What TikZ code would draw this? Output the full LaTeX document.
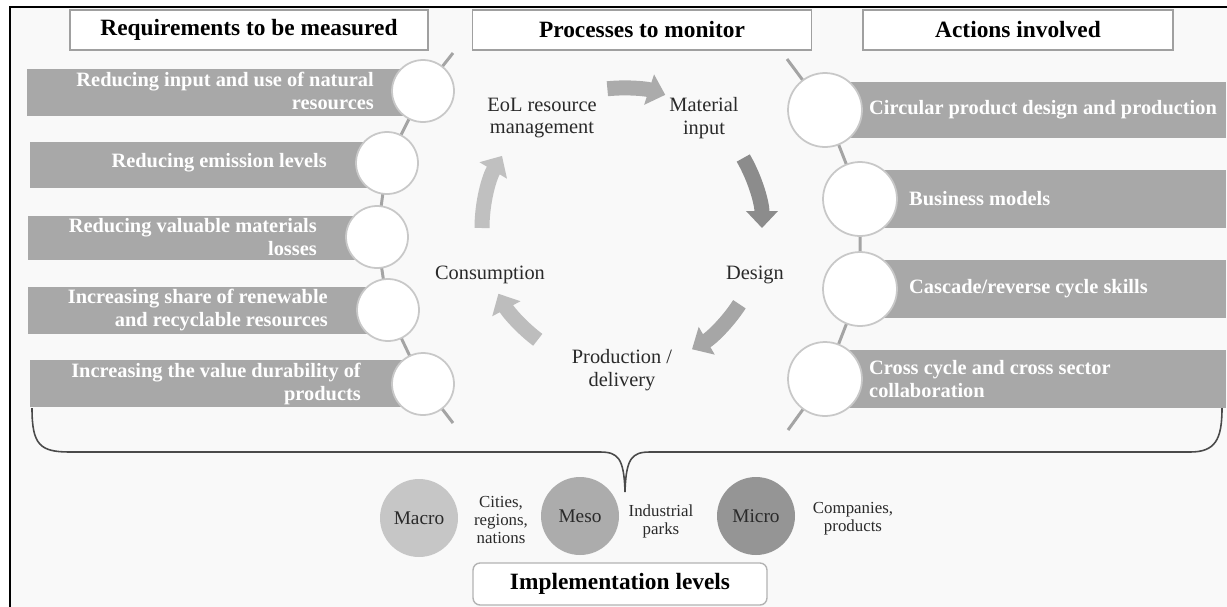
\documentclass[tikz,border=0pt]{standalone}
\usepackage{fontspec}
\setmainfont{Liberation Serif}
\usetikzlibrary{arrows.meta,positioning,calc}

\definecolor{paper}{HTML}{F9F9F9}
\definecolor{boxline}{HTML}{A0A0A0}
\definecolor{barfill}{HTML}{A8A8A8}
\definecolor{beadline}{HTML}{C8C8C8}
\definecolor{stickgray}{HTML}{A4A4A4}
\definecolor{ink}{HTML}{2A2A2A}
\definecolor{flowa}{HTML}{ABABAB}
\definecolor{flowb}{HTML}{8C8C8C}
\definecolor{flowc}{HTML}{A6A6A6}
\definecolor{flowd}{HTML}{BDBDBD}
\definecolor{flowe}{HTML}{C0C0C0}
\definecolor{macrofill}{HTML}{C6C6C6}
\definecolor{mesofill}{HTML}{ACACAC}
\definecolor{microfill}{HTML}{959595}

\newcommand\headfont{\bfseries\fontsize{13.3}{16}\selectfont}
\newcommand\barfont{\bfseries\fontsize{11.6}{12.8}\selectfont}
\newcommand\procfont{\fontsize{11.6}{12.8}\selectfont}
\newcommand\levelfont{\fontsize{11}{13}\selectfont}
\newcommand\notefont{\fontsize{9.6}{10.2}\selectfont}

\begin{document}
\begin{tikzpicture}[x=0.02cm,y=-0.02cm,
    headbox/.style={draw=boxline,fill=white,line width=0.8pt,minimum height=0.8cm,font=\headfont},
    bead/.style={circle,draw=beadline,fill=white,line width=1pt,inner sep=0pt},
    stick/.style={draw=stickgray,line width=1.7pt},
    reqtext/.style={anchor=east,inner sep=0pt,align=right,text=white,font=\barfont},
    acttext/.style={anchor=west,inner sep=0pt,align=left,text=white,font=\barfont},
    proc/.style={align=center,text=ink,font=\procfont},
    flow/.style={line width=0.3cm,-{Triangle[length=0.34cm,width=0.62cm]}},
    level/.style={circle,minimum size=1.56cm,inner sep=0pt,text=ink,font=\levelfont},
    levelnote/.style={align=center,text=ink,font=\notefont},
  ]
  \useasboundingbox (0,0) rectangle (1227,606);
  \fill[white] (0,0) rectangle (1227,606);
  \draw[line width=1.2pt,fill=paper] (10,7) rectangle (1240,620);

  \node[headbox,minimum width=7.16cm] (reqhead) at (249,30) {Requirements to be measured};
  \node[headbox,minimum width=6.78cm] (prochead) at (642,30) {Processes to monitor};
  \node[headbox,minimum width=6.2cm] (acthead) at (1018,30) {Actions involved};

  \fill[barfill] (27,69) rectangle (423,116);
  \fill[barfill] (30,142) rectangle (387,188);
  \fill[barfill] (28,216) rectangle (377,260);
  \fill[barfill] (28,287) rectangle (388,334);
  \fill[barfill] (30,360) rectangle (423,407);
  \fill[barfill] (850,82) rectangle (1226,138);
  \fill[barfill] (860,170) rectangle (1226,228);
  \fill[barfill] (860,260) rectangle (1226,318);
  \fill[barfill] (825,350) rectangle (1226,408);

  \coordinate (reqtop) at (453,53);
  \coordinate (reqend) at (453,423);
  \coordinate (acttop) at (787,59);
  \coordinate (actend) at (788,430);
  \foreach \n/\x/\y in {1/423/91, 2/387/163, 3/377/237, 4/388/310, 5/423/384}
    \coordinate (rc\n) at (\x,\y);
  \foreach \n/\x/\y in {1/825/110, 2/860/199, 3/860/289, 4/825/379}
    \coordinate (ac\n) at (\x,\y);
  \draw[stick] (reqtop) -- (rc1) -- (rc2) -- (rc3) -- (rc4) -- (rc5) -- (reqend);
  \draw[stick] (acttop) -- (ac1) -- (ac2) -- (ac3) -- (ac4) -- (actend);
  \foreach \n in {1,...,5}
    \node[bead,minimum size=1.24cm] (req\n) at (rc\n) {};
  \foreach \n in {1,...,4}
    \node[bead,minimum size=1.48cm] (act\n) at (ac\n) {};

  \node[reqtext] (reqtext1) at ($(req1.west)+(-17,0)$) {Reducing input and use of natural\\resources};
  \node[reqtext] (reqtext2) at ($(req2.west)+(-28,0)$) {Reducing emission levels};
  \node[reqtext] (reqtext3) at ($(req3.west)+(-28,0)$) {Reducing valuable materials\\losses};
  \node[reqtext] (reqtext4) at ($(req4.west)+(-28,0)$) {Increasing share of renewable\\and recyclable resources};
  \node[reqtext] (reqtext5) at ($(req5.west)+(-30,0)$) {Increasing the value durability of\\products};

  \node[acttext] (acttext1) at ($(act1.east)+(6,0)$) {Circular product design and production};
  \node[acttext] (acttext2) at ($(act2.east)+(11,0)$) {Business models};
  \node[acttext] (acttext3) at ($(act3.east)+(11,0)$) {Cascade/reverse cycle skills};
  \node[acttext] (acttext4) at ($(act4.east)+(6,0)$) {Cross cycle and cross sector\\collaboration};

  \node[proc] (eol) at (542,118) {EoL resource\\management};
  \node[proc] (input) at (704,118) {Material\\input};
  \node[proc] (design) at (755,275) {Design};
  \node[proc] (prod) at (622,370) {Production /\\delivery};
  \node[proc] (cons) at (490,275) {Consumption};

  \coordinate (hub) at (622,228);
  \draw[flow,flowa] ($(hub)+(-96:140)$) arc[start angle=-96,end angle=-72,radius=140];
  \draw[flow,flowb] ($(hub)+(-30:140)$) arc[start angle=-30,end angle=0,radius=140];
  \draw[flow,flowc] ($(hub)+(33:140)$) arc[start angle=33,end angle=60,radius=140];
  \draw[flow,flowd] ($(hub)+(127:140)$) arc[start angle=127,end angle=152,radius=140];
  \draw[flow,flowe] ($(hub)+(180:140)$) arc[start angle=180,end angle=211,radius=140];

  \draw[draw=ink!85,line width=0.9pt] (32,408) .. controls (32,445) and (40,452) .. (70,452)
    -- (600,452) .. controls (618,452) and (624,458) .. (625,492)
    .. controls (626,458) and (632,452) .. (650,452) -- (1190,452)
    .. controls (1215,452) and (1222,440) .. (1222,408);

  \node[level,fill=macrofill] (macro) at (419,518) {Macro};
  \node[level,fill=mesofill] (meso) at (580,516) {Meso};
  \node[level,fill=microfill] (micro) at (756,516) {Micro};
  \node[levelnote] (macronote) at (501,520) {Cities,\\regions,\\nations};
  \node[levelnote] (mesonote) at (661,521) {Industrial\\parks};
  \node[levelnote] (micronote) at (853,519) {Companies,\\products};

  \node[headbox,rounded corners=4pt,draw=boxline!80,minimum width=5.88cm,minimum height=0.84cm] (impl) at (620,584) {Implementation levels};
\end{tikzpicture}
\end{document}
